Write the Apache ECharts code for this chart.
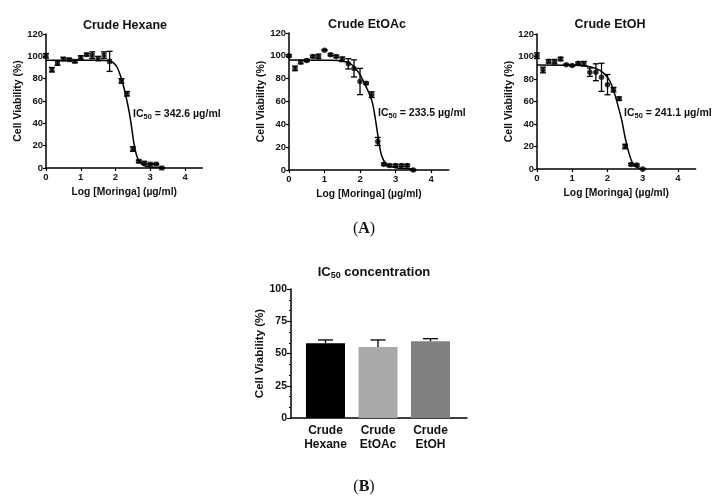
<!DOCTYPE html>
<html><head><meta charset="utf-8">
<script src="https://cdn.jsdelivr.net/npm/echarts@6/dist/echarts.min.js"></script>
<style>html,body{margin:0;padding:0;background:#fff}#c{width:726px;height:499px}</style>
</head><body><div id="c"></div>
<script>
// ---------- data ----------
const panelTitles = ['Crude Hexane', 'Crude EtOAc', 'Crude EtOH'];
const ic50Labels = ['342.6', '233.5', '241.1'];
const xTicks = [0, 1, 2, 3, 4];

const xHex = [0, 0.17, 0.33, 0.5, 0.67, 0.83, 1.0, 1.17, 1.33, 1.5, 1.67, 1.83, 2.17, 2.33, 2.5, 2.67, 2.83, 3.0, 3.17, 3.33];
const yHex = [100.5, 88, 94, 97.5, 97, 95.5, 99, 101.5, 101, 98, 101, 95.5, 78, 66.5, 17, 6, 4.5, 3.5, 3.5, 0];
const eHex = [2, 2, 2, 1.5, 1, 1, 1.5, 1, 3, 2, 3, 9, 2, 2, 2, 1, 1, 0.5, 0.5, 0.5];
const curveHex = [[0, 96.5], [1.5, 96.5], [1.8, 96], [1.95, 94], [2.05, 90], [2.15, 82], [2.25, 71], [2.33, 60], [2.4, 49], [2.47, 35], [2.53, 22], [2.6, 12], [2.68, 6], [2.8, 2.5], [3.0, 1], [3.33, 0.5]];

const xEtOAc = [0, 0.17, 0.33, 0.5, 0.67, 0.83, 1.0, 1.17, 1.33, 1.5, 1.67, 1.83, 2.0, 2.17, 2.33, 2.5, 2.67, 2.83, 3.0, 3.17, 3.33, 3.5];
const yEtOAc = [100, 89, 94.5, 96, 99.5, 99.5, 105, 101, 99.5, 97, 93, 89, 77.5, 76, 66, 25, 5, 4, 4, 4, 4, 0];
const eEtOAc = [1, 2, 1.5, 1, 1, 2, 0.5, 1, 1, 2, 4.5, 7.5, 11.5, 1, 2.5, 3.5, 1, 1, 1, 1, 1, 0.5];
const curveEtOAc = [[0, 96.4], [1.2, 96.2], [1.5, 95.5], [1.72, 93.5], [1.95, 86], [2.14, 75], [2.33, 61], [2.42, 47], [2.52, 27], [2.61, 12.5], [2.75, 5], [3.0, 2], [3.5, 1]];

const xEtOH = [0, 0.17, 0.33, 0.5, 0.67, 0.83, 1.0, 1.17, 1.33, 1.5, 1.67, 1.83, 2.0, 2.17, 2.33, 2.5, 2.67, 2.83, 3.0];
const yEtOH = [100.7, 88, 95.7, 95.4, 97.8, 92.7, 92, 94, 93.6, 86, 86, 81.5, 75, 70.5, 62.5, 20, 4, 3.5, 0];
const eEtOH = [2.5, 2.5, 1.5, 2, 1.5, 0.5, 0.5, 1, 2, 3.7, 7.5, 12.5, 9, 2, 1.5, 2, 1, 1, 0.5];
const curveEtOH = [[0, 92.5], [1.0, 92.3], [1.4, 91.5], [1.7, 89], [1.9, 85], [2.07, 78], [2.2, 67], [2.3, 56], [2.4, 44], [2.5, 28], [2.6, 15], [2.7, 6], [2.8, 2], [2.95, 0.3], [3.0, 0]];

const barCategories = ['Crude\nHexane', 'Crude\nEtOAc', 'Crude\nEtOH'];
const barPositions = [1, 2, 3];
const barValues = [58, 55, 59.5];
const barErrors = [2.5, 5.5, 2];
const barColors = ['#000000', '#a9a9ab', '#808080'];

// ---------- helpers ----------
const FONT = "'Liberation Sans', Arial, sans-serif";
const axisLineStyle = { color: '#000', width: 1.5 };

function errSeries(idx, xs, ys, es, upOnly, cap) {
  return {
    type: 'custom', xAxisIndex: idx, yAxisIndex: idx, z: 4, silent: true,
    data: xs.map((x, i) => [x, ys[i], es[i]]),
    renderItem(params, api) {
      const x = api.value(0), y = api.value(1), e = api.value(2);
      const t = api.coord([x, y + e]);
      const b = api.coord([x, upOnly ? y : y - e]);
      const st = { stroke: '#000', lineWidth: 1.3 };
      const ch = [
        { type: 'line', shape: { x1: t[0], y1: t[1], x2: b[0], y2: b[1] }, style: st },
        { type: 'line', shape: { x1: t[0] - cap, y1: t[1], x2: t[0] + cap, y2: t[1] }, style: st }
      ];
      if (!upOnly) ch.push({ type: 'line', shape: { x1: b[0] - cap, y1: b[1], x2: b[0] + cap, y2: b[1] }, style: st });
      return { type: 'group', children: ch };
    }
  };
}

const grids = [
  { left: 46, top: 34, width: 156.4, height: 134 },
  { left: 289, top: 33, width: 159.8, height: 137 },
  { left: 537, top: 34, width: 158.6, height: 135 },
  { left: 291, top: 289, width: 176, height: 129 }
];

const xAxes = [0, 1, 2].map(i => ({
  type: 'value', gridIndex: i, min: 0, max: 4.5, interval: 1,
  name: 'Log [Moringa] (\u00b5g/ml)', nameLocation: 'middle', nameGap: 19,
  nameTextStyle: { fontFamily: FONT, fontWeight: 'bold', fontSize: 10.3, color: '#111' },
  axisLine: { lineStyle: axisLineStyle },
  axisTick: { show: true, length: 3, lineStyle: { color: '#000', width: 1.2 }, customValues: xTicks },
  axisLabel: { fontFamily: FONT, fontWeight: 'bold', fontSize: 9.5, color: '#111', margin: 4, customValues: xTicks },
  splitLine: { show: false }
}));
xAxes.push({
  type: 'value', gridIndex: 3, min: 0.343, max: 3.695,
  axisLine: { lineStyle: axisLineStyle },
  axisTick: { show: false },
  axisLabel: {
    fontFamily: FONT, fontWeight: 'bold', fontSize: 12, color: '#111', margin: 6, lineHeight: 14,
    customValues: barPositions,
    formatter: v => barCategories[barPositions.indexOf(Math.round(v))] || ''
  },
  splitLine: { show: false }
});

const yAxes = [0, 1, 2].map(i => ({
  type: 'value', gridIndex: i, min: 0, max: 120, interval: 20,
  name: 'Cell Viability (%)', nameLocation: 'middle', nameGap: 22,
  nameTextStyle: { fontFamily: FONT, fontWeight: 'bold', fontSize: 10.5, color: '#111' },
  axisLine: { show: true, lineStyle: axisLineStyle },
  axisTick: { show: true, length: 3, lineStyle: { color: '#000', width: 1.2 } },
  axisLabel: { fontFamily: FONT, fontWeight: 'bold', fontSize: 9.5, color: '#111', margin: 3 },
  splitLine: { show: false }
}));
yAxes.push({
  type: 'value', gridIndex: 3, min: 0, max: 100, interval: 25,
  name: 'Cell Viability (%)', nameLocation: 'middle', nameGap: 22,
  nameTextStyle: { fontFamily: FONT, fontWeight: 'bold', fontSize: 11.5, color: '#111' },
  axisLine: { show: true, lineStyle: axisLineStyle },
  axisTick: { show: true, length: 4, lineStyle: { color: '#000', width: 1.2 } },
  minorTick: { show: true, splitNumber: 3, length: 2, lineStyle: { color: '#000', width: 1 } },
  axisLabel: { fontFamily: FONT, fontWeight: 'bold', fontSize: 10.5, color: '#111', margin: 4 },
  splitLine: { show: false }
});

const pts = [[xHex, yHex, eHex, curveHex, 'rect'], [xEtOAc, yEtOAc, eEtOAc, curveEtOAc, 'circle'], [xEtOH, yEtOH, eEtOH, curveEtOH, 'circle']];
const series = [];
pts.forEach((p, i) => {
  series.push({
    type: 'line', xAxisIndex: i, yAxisIndex: i, data: p[3], smooth: 0.35, showSymbol: false,
    lineStyle: { color: '#000', width: 1.5 }, silent: true, z: 2
  });
  series.push(errSeries(i, p[0], p[1], p[2], false, 3));
  series.push({
    type: 'scatter', xAxisIndex: i, yAxisIndex: i, symbol: p[4], symbolSize: p[4] === 'rect' ? 5 : 5.5,
    data: p[0].map((x, k) => [x, p[1][k]]), itemStyle: { color: '#000' }, z: 5, silent: true
  });
});
series.push({
  type: 'bar', xAxisIndex: 3, yAxisIndex: 3, barWidth: 39, silent: true,
  data: barPositions.map((x, k) => ({ value: [x, barValues[k]], itemStyle: { color: barColors[k] } }))
});
series.push(errSeries(3, barPositions, barValues, barErrors, true, 7.5));

const titleCenters = [[125, 26], [367, 25], [610, 25]];
const icPos = [[133, 114], [378, 113], [624, 113]];
const graphic = [];
panelTitles.forEach((t, i) => {
  graphic.push({ type: 'text', x: titleCenters[i][0], y: titleCenters[i][1], style: {
    text: t, align: 'center', verticalAlign: 'middle', fontFamily: FONT, fontWeight: 'bold', fontSize: 12.5, fill: '#111' } });
});
ic50Labels.forEach((v, i) => {
  graphic.push({ type: 'text', x: icPos[i][0], y: icPos[i][1], style: {
    text: '{a|IC}{s|50}{a| = ' + v + ' \u00b5g/ml}', verticalAlign: 'middle',
    rich: { a: { fontFamily: FONT, fontWeight: 'bold', fontSize: 10.5, fill: '#111', lineHeight: 12, verticalAlign: 'middle' },
            s: { fontFamily: FONT, fontWeight: 'bold', fontSize: 7.5, fill: '#111', lineHeight: 12, padding: [6, 0, 0, 0], verticalAlign: 'middle' } } } });
});
graphic.push({ type: 'text', x: 374, y: 272, style: {
  text: '{a|IC}{s|50}{a| concentration}', align: 'center', verticalAlign: 'middle',
  rich: { a: { fontFamily: FONT, fontWeight: 'bold', fontSize: 13, fill: '#111', lineHeight: 15, verticalAlign: 'middle' },
          s: { fontFamily: FONT, fontWeight: 'bold', fontSize: 9, fill: '#111', lineHeight: 15, padding: [7, 0, 0, 0], verticalAlign: 'middle' } } } });
[['A', 229], ['B', 487]].forEach(([l, y]) => {
  graphic.push({ type: 'text', x: 364, y: y, style: {
    text: '{p|(}{b|' + l + '}{p|)}', align: 'center', verticalAlign: 'middle',
    rich: { p: { fontFamily: "'Liberation Serif', serif", fontSize: 16, fill: '#111' },
            b: { fontFamily: "'Liberation Serif', serif", fontWeight: 'bold', fontSize: 16, fill: '#111' } } } });
});

const chart = echarts.init(document.getElementById('c'), null, { renderer: 'canvas' });
chart.setOption({
  animation: false, backgroundColor: '#fff',
  grid: grids, xAxis: xAxes, yAxis: yAxes, series: series, graphic: graphic
});
</script></body></html>
